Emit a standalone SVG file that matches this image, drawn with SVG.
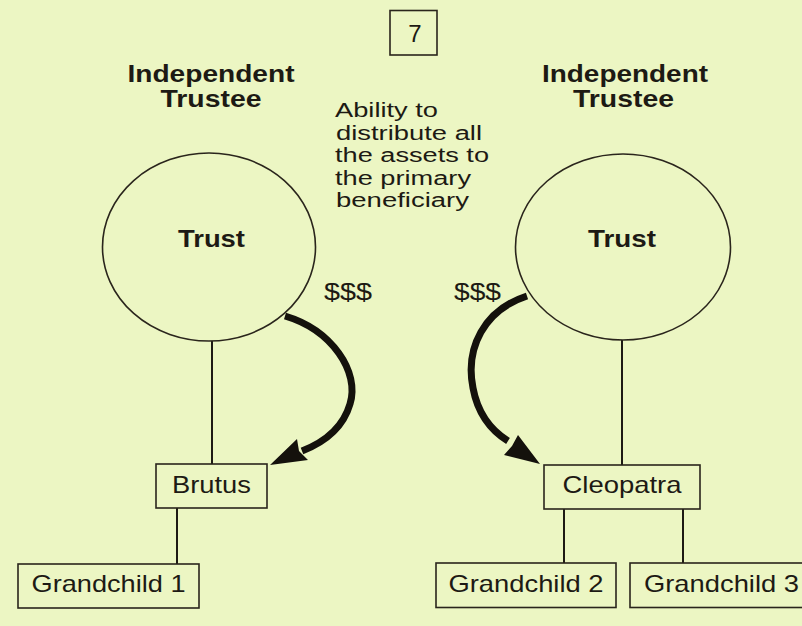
<svg xmlns="http://www.w3.org/2000/svg" width="802" height="626" viewBox="0 0 802 626">
  <defs>
    <style>
      .bg { fill: #ecf6c3; }
      .txt { font-family: "Liberation Sans", Arial, Helvetica, sans-serif; fill: #1d1a14; font-size: 24px; }
      .bold { font-weight: bold; }
      .mid { text-anchor: middle; }
      .note { font-size: 20px; }
      .shape { fill: none; stroke: #2a251c; stroke-width: 1.6; }
      .link { fill: none; stroke: #1d1a14; stroke-width: 2; }
      .flow { fill: none; stroke: #14110c; stroke-width: 7; stroke-linecap: butt; }
      .head { fill: #14110c; }
    </style>
  </defs>

  <rect class="bg" x="0" y="0" width="802" height="626"/>

  <!-- page number -->
  <g id="figure-number">
    <rect class="shape" x="390" y="10.5" width="47" height="44.5"/>
    <text class="txt mid" x="415" y="42" font-size="30">7</text>
  </g>

  <!-- connectors -->
  <g id="connectors">
    <line class="link" x1="212" y1="341" x2="212" y2="464"/>
    <line class="link" x1="177" y1="508" x2="177" y2="564"/>
    <line class="link" x1="622" y1="340" x2="622" y2="465"/>
    <line class="link" x1="564" y1="509" x2="564" y2="563"/>
    <line class="link" x1="683" y1="509" x2="683" y2="563"/>

    <!-- distribution arrow, left trust to Brutus -->
    <path class="flow" d="M285,316 C332,330 360,372 350,404 C343,428 325,442 302,451"/>
    <polygon class="head" points="270,465 297,439 299,451 308,460"/>

    <!-- distribution arrow, right trust to Cleopatra -->
    <path class="flow" d="M527,296 C484,310 465,348 473,388 C478,415 492,431 508,441"/>
    <polygon class="head" points="540,464 518,435 512,446 504,455"/>
  </g>

  <!-- left side -->
  <g id="trustee-left">
    <text class="txt bold mid" x="211" y="82" font-size="25" textLength="167" lengthAdjust="spacingAndGlyphs">Independent</text>
    <text class="txt bold mid" x="211" y="107" font-size="25" textLength="101" lengthAdjust="spacingAndGlyphs">Trustee</text>
  </g>

  <g id="trust-left">
    <ellipse class="shape" cx="209" cy="247" rx="106.5" ry="94"/>
    <text class="txt bold mid" x="211.5" y="247" textLength="67" lengthAdjust="spacingAndGlyphs">Trust</text>
  </g>

  <g id="note">
    <text class="txt note" x="335" y="117" textLength="103" lengthAdjust="spacingAndGlyphs">Ability to</text>
    <text class="txt note" x="336" y="139.5" textLength="146" lengthAdjust="spacingAndGlyphs">distribute all</text>
    <text class="txt note" x="335" y="162" textLength="154" lengthAdjust="spacingAndGlyphs">the assets to</text>
    <text class="txt note" x="335" y="184.5" textLength="136" lengthAdjust="spacingAndGlyphs">the primary</text>
    <text class="txt note" x="336" y="207" textLength="133" lengthAdjust="spacingAndGlyphs">beneficiary</text>
  </g>

  <g id="money-left">
    <text class="txt" x="324" y="300" textLength="48" lengthAdjust="spacingAndGlyphs">$$$</text>
  </g>

  <g id="brutus">
    <rect class="shape" x="156" y="464" width="111" height="44"/>
    <text class="txt mid" x="211.5" y="493" textLength="79" lengthAdjust="spacingAndGlyphs">Brutus</text>
  </g>

  <g id="grandchild-1">
    <rect class="shape" x="18" y="564" width="181" height="44"/>
    <text class="txt mid" x="108.5" y="592" textLength="154" lengthAdjust="spacingAndGlyphs">Grandchild 1</text>
  </g>

  <!-- right side -->
  <g id="trustee-right">
    <text class="txt bold mid" x="625" y="82" font-size="25" textLength="166" lengthAdjust="spacingAndGlyphs">Independent</text>
    <text class="txt bold mid" x="623.5" y="107" font-size="25" textLength="101" lengthAdjust="spacingAndGlyphs">Trustee</text>
  </g>

  <g id="trust-right">
    <ellipse class="shape" cx="623" cy="247" rx="107.5" ry="93"/>
    <text class="txt bold mid" x="622" y="247" textLength="68" lengthAdjust="spacingAndGlyphs">Trust</text>
  </g>

  <g id="money-right">
    <text class="txt" x="454" y="300" textLength="47" lengthAdjust="spacingAndGlyphs">$$$</text>
  </g>

  <g id="cleopatra">
    <rect class="shape" x="544" y="465" width="156" height="44"/>
    <text class="txt mid" x="622" y="493" textLength="119" lengthAdjust="spacingAndGlyphs">Cleopatra</text>
  </g>

  <g id="grandchild-2">
    <rect class="shape" x="436" y="563" width="180" height="44.5"/>
    <text class="txt mid" x="526" y="592" textLength="155" lengthAdjust="spacingAndGlyphs">Grandchild 2</text>
  </g>

  <g id="grandchild-3">
    <rect class="shape" x="630" y="563" width="185" height="44.5"/>
    <text class="txt" x="644" y="592" textLength="155" lengthAdjust="spacingAndGlyphs">Grandchild 3</text>
  </g>
</svg>
